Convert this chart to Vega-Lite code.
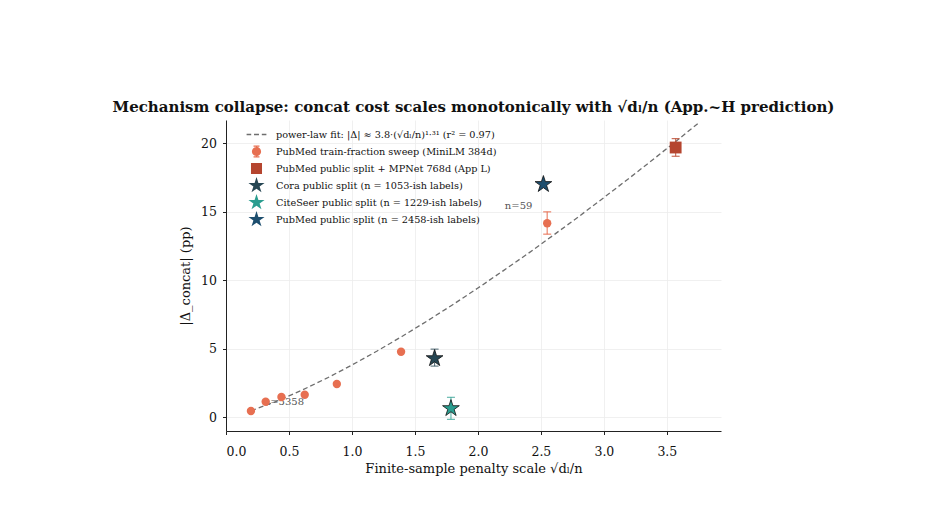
{
  "$schema": "https://vega.github.io/schema/vega-lite/v6.json",
  "width": 495,
  "height": 311,
  "autosize": {"type": "none"},
  "padding": {"left": 226, "top": 120, "right": 227, "bottom": 74},
  "background": "white",
  "title": {
    "text": "Mechanism collapse: concat cost scales monotonically with √dₗ/n (App.~H prediction)",
    "font": "DejaVu Serif",
    "fontSize": 15,
    "fontWeight": "bold",
    "color": "#111111",
    "anchor": "middle",
    "offset": 5
  },
  "config": {
    "view": {"stroke": null},
    "axis": {
      "labelFont": "DejaVu Serif",
      "labelFontSize": 12.5,
      "labelColor": "#111111",
      "titleFont": "DejaVu Serif",
      "titleFontSize": 13,
      "titleFontWeight": "normal",
      "titleColor": "#111111",
      "domainColor": "#222222",
      "domainWidth": 1,
      "tickColor": "#222222",
      "tickSize": 3.5,
      "gridColor": "#ececec",
      "gridWidth": 0.8
    },
    "legend": {
      "labelFont": "DejaVu Serif",
      "labelFontSize": 9.7,
      "labelColor": "#111111",
      "labelLimit": 0
    }
  },
  "datasets": {
    "fit": [
      {"x": 0.2, "y": 0.461}, {"x": 0.4, "y": 1.144}, {"x": 0.6, "y": 1.946},
      {"x": 0.8, "y": 2.837}, {"x": 1.0, "y": 3.8}, {"x": 1.2, "y": 4.825},
      {"x": 1.4, "y": 5.905}, {"x": 1.6, "y": 7.034}, {"x": 1.8, "y": 8.207},
      {"x": 2.0, "y": 9.422}, {"x": 2.2, "y": 10.68}, {"x": 2.4, "y": 11.96},
      {"x": 2.6, "y": 13.29}, {"x": 2.8, "y": 14.64}, {"x": 3.0, "y": 16.03},
      {"x": 3.2, "y": 17.44}, {"x": 3.4, "y": 18.88}, {"x": 3.6, "y": 20.35},
      {"x": 3.75, "y": 21.47}
    ],
    "sweep": [
      {"x": 0.198, "y": 0.44},
      {"x": 0.315, "y": 1.12},
      {"x": 0.44, "y": 1.46},
      {"x": 0.625, "y": 1.63},
      {"x": 0.88, "y": 2.41},
      {"x": 1.39, "y": 4.77},
      {"x": 2.55, "y": 14.16, "lo": 13.36, "hi": 14.99}
    ],
    "mpnet": [
      {"x": 3.57, "y": 19.69, "lo": 19.05, "hi": 20.34}
    ],
    "cora": [{"x": 1.656, "y": 4.28, "lo": 3.72, "hi": 4.96}],
    "citeseer": [{"x": 1.786, "y": 0.63, "lo": -0.17, "hi": 1.44}],
    "pubmed": [{"x": 2.52, "y": 17.0}],
    "notes": [
      {"x": 0.3, "y": 1.13, "label": "n=5358"},
      {"x": 2.214, "y": 15.4, "label": "n=59"}
    ],
    "legend": [
      {"series": "power-law fit: |Δ| ≈ 3.8·(√dₗ/n)¹·³¹  (r² = 0.97)"},
      {"series": "PubMed train-fraction sweep (MiniLM 384d)"},
      {"series": "PubMed public split + MPNet 768d (App L)"},
      {"series": "Cora public split (n = 1053-ish labels)"},
      {"series": "CiteSeer public split (n = 1229-ish labels)"},
      {"series": "PubMed public split (n = 2458-ish labels)"}
    ]
  },
  "layer": [
    {
      "data": {"name": "fit"},
      "mark": {"type": "line", "color": "#6e6e6e", "strokeWidth": 1.3, "strokeDash": [5, 3]},
      "encoding": {
        "x": {
          "field": "x",
          "type": "quantitative",
          "scale": {"domain": [0, 3.93], "nice": false, "zero": false},
          "axis": {
            "values": [0, 0.5, 1, 1.5, 2, 2.5, 3, 3.5],
            "format": ".1f",
            "title": "Finite-sample penalty scale √dₗ/n",
            "labelPadding": 11,
            "titlePadding": 4
          }
        },
        "y": {
          "field": "y",
          "type": "quantitative",
          "scale": {"domain": [-1.02, 21.7], "nice": false, "zero": false},
          "axis": {
            "values": [0, 5, 10, 15, 20],
            "format": "d",
            "title": "|Δ_concat| (pp)",
            "labelPadding": 6,
            "titlePadding": 8
          }
        }
      }
    },
    {
      "data": {"name": "notes"},
      "mark": {"type": "text", "align": "left", "baseline": "middle", "font": "DejaVu Serif", "fontSize": 10, "color": "#555555"},
      "encoding": {
        "x": {"field": "x", "type": "quantitative"},
        "y": {"field": "y", "type": "quantitative", "title": "|Δ_concat| (pp)"},
        "text": {"field": "label"}
      }
    },
    {
      "data": {"name": "sweep"},
      "transform": [{"filter": "isValid(datum.lo)"}],
      "mark": {"type": "errorbar", "ticks": {"size": 8}, "color": "#e76f51", "thickness": 1.2, "opacity": 0.85},
      "encoding": {
        "x": {"field": "x", "type": "quantitative"},
        "y": {"field": "lo", "type": "quantitative", "title": "|Δ_concat| (pp)"},
        "y2": {"field": "hi"}
      }
    },
    {
      "data": {"name": "sweep"},
      "mark": {"type": "point", "shape": "circle", "filled": true, "color": "#e76f51", "size": 70, "opacity": 1},
      "encoding": {
        "x": {"field": "x", "type": "quantitative"},
        "y": {"field": "y", "type": "quantitative", "title": "|Δ_concat| (pp)"}
      }
    },
    {
      "data": {"name": "mpnet"},
      "mark": {"type": "errorbar", "ticks": {"size": 8}, "color": "#c0553d", "thickness": 1.2, "opacity": 0.85},
      "encoding": {
        "x": {"field": "x", "type": "quantitative"},
        "y": {"field": "lo", "type": "quantitative", "title": "|Δ_concat| (pp)"},
        "y2": {"field": "hi"}
      }
    },
    {
      "data": {"name": "mpnet"},
      "mark": {"type": "point", "shape": "square", "filled": true, "color": "#b5452f", "size": 140, "opacity": 1},
      "encoding": {
        "x": {"field": "x", "type": "quantitative"},
        "y": {"field": "y", "type": "quantitative", "title": "|Δ_concat| (pp)"}
      }
    },
    {
      "data": {"name": "cora"},
      "mark": {"type": "errorbar", "ticks": {"size": 8}, "color": "#264653", "thickness": 1.2, "opacity": 0.7},
      "encoding": {
        "x": {"field": "x", "type": "quantitative"},
        "y": {"field": "lo", "type": "quantitative", "title": "|Δ_concat| (pp)"},
        "y2": {"field": "hi"}
      }
    },
    {
      "data": {"name": "citeseer"},
      "mark": {"type": "errorbar", "ticks": {"size": 8}, "color": "#2a9d8f", "thickness": 1.2, "opacity": 0.7},
      "encoding": {
        "x": {"field": "x", "type": "quantitative"},
        "y": {"field": "lo", "type": "quantitative", "title": "|Δ_concat| (pp)"},
        "y2": {"field": "hi"}
      }
    },
    {
      "data": {"name": "cora"},
      "mark": {"type": "point", "shape": "M0,-1L0.2245,-0.309L0.9511,-0.309L0.3633,0.118L0.5878,0.809L0,0.382L-0.5878,0.809L-0.3633,0.118L-0.9511,-0.309L-0.2245,-0.309Z", "filled": true, "size": 310, "fill": "#264653", "stroke": "#111111", "strokeWidth": 0.8, "opacity": 1},
      "encoding": {
        "x": {"field": "x", "type": "quantitative"},
        "y": {"field": "y", "type": "quantitative", "title": "|Δ_concat| (pp)"}
      }
    },
    {
      "data": {"name": "citeseer"},
      "mark": {"type": "point", "shape": "M0,-1L0.2245,-0.309L0.9511,-0.309L0.3633,0.118L0.5878,0.809L0,0.382L-0.5878,0.809L-0.3633,0.118L-0.9511,-0.309L-0.2245,-0.309Z", "filled": true, "size": 310, "fill": "#2a9d8f", "stroke": "#111111", "strokeWidth": 0.8, "opacity": 1},
      "encoding": {
        "x": {"field": "x", "type": "quantitative"},
        "y": {"field": "y", "type": "quantitative", "title": "|Δ_concat| (pp)"}
      }
    },
    {
      "data": {"name": "pubmed"},
      "mark": {"type": "point", "shape": "M0,-1L0.2245,-0.309L0.9511,-0.309L0.3633,0.118L0.5878,0.809L0,0.382L-0.5878,0.809L-0.3633,0.118L-0.9511,-0.309L-0.2245,-0.309Z", "filled": true, "size": 310, "fill": "#1d4e6e", "stroke": "#111111", "strokeWidth": 0.8, "opacity": 1},
      "encoding": {
        "x": {"field": "x", "type": "quantitative"},
        "y": {"field": "y", "type": "quantitative", "title": "|Δ_concat| (pp)"}
      }
    },
    {
      "data": {"name": "legend"},
      "mark": {"type": "point", "filled": true, "opacity": 0},
      "encoding": {
        "shape": {
          "field": "series",
          "type": "nominal",
          "scale": {
            "domain": [
              "power-law fit: |Δ| ≈ 3.8·(√dₗ/n)¹·³¹  (r² = 0.97)",
              "PubMed train-fraction sweep (MiniLM 384d)",
              "PubMed public split + MPNet 768d (App L)",
              "Cora public split (n = 1053-ish labels)",
              "CiteSeer public split (n = 1229-ish labels)",
              "PubMed public split (n = 2458-ish labels)"
            ],
            "range": [
              "M-1.4,-0.092H-0.75V0.092H-1.4Z M-0.35,-0.092H0.35V0.092H-0.35Z M0.75,-0.092H1.4V0.092H0.75Z M0,-1.25h0.01 M0,1.25h0.01",
              "M0.65,0A0.65,0.65 0 1,1 -0.65,0A0.65,0.65 0 1,1 0.65,0Z M-0.085,-0.75H0.085V0.75H-0.085Z M-0.42,-0.835H0.42V-0.665H-0.42Z M-0.42,0.665H0.42V0.835H-0.42Z M0,-1.25h0.01 M0,1.25h0.01",
              "M-0.78,-0.78H0.78V0.78H-0.78Z M0,-1.25h0.01 M0,1.25h0.01",
              "M0,-1.2L0.2694,-0.3708L1.1413,-0.3708L0.436,0.1416L0.7054,0.9708L0,0.4584L-0.7054,0.9708L-0.436,0.1416L-1.1413,-0.3708L-0.2694,-0.3708Z M0,-1.25h0.01 M0,1.25h0.01",
              "M0,-1.2L0.2694,-0.3708L1.1413,-0.3708L0.436,0.1416L0.7054,0.9708L0,0.4584L-0.7054,0.9708L-0.436,0.1416L-1.1413,-0.3708L-0.2694,-0.3708Z M0,-1.25h0.01 M0,1.25h0.02",
              "M0,-1.2L0.2694,-0.3708L1.1413,-0.3708L0.436,0.1416L0.7054,0.9708L0,0.4584L-0.7054,0.9708L-0.436,0.1416L-1.1413,-0.3708L-0.2694,-0.3708Z M0,-1.25h0.01 M0,1.25h0.03"
            ]
          },
          "legend": {
            "title": null,
            "orient": "none",
            "legendX": 23,
            "legendY": 7,
            "symbolSize": 200,
            "labelOffset": 12,
            "rowPadding": -7,
            "symbolOpacity": 1,
            "symbolStrokeWidth": 0
          }
        },
        "color": {
          "field": "series",
          "type": "nominal",
          "scale": {
            "domain": [
              "power-law fit: |Δ| ≈ 3.8·(√dₗ/n)¹·³¹  (r² = 0.97)",
              "PubMed train-fraction sweep (MiniLM 384d)",
              "PubMed public split + MPNet 768d (App L)",
              "Cora public split (n = 1053-ish labels)",
              "CiteSeer public split (n = 1229-ish labels)",
              "PubMed public split (n = 2458-ish labels)"
            ],
            "range": ["#6e6e6e", "#e76f51", "#b5452f", "#264653", "#2a9d8f", "#1d4e6e"]
          }
        }
      }
    }
  ]
}
